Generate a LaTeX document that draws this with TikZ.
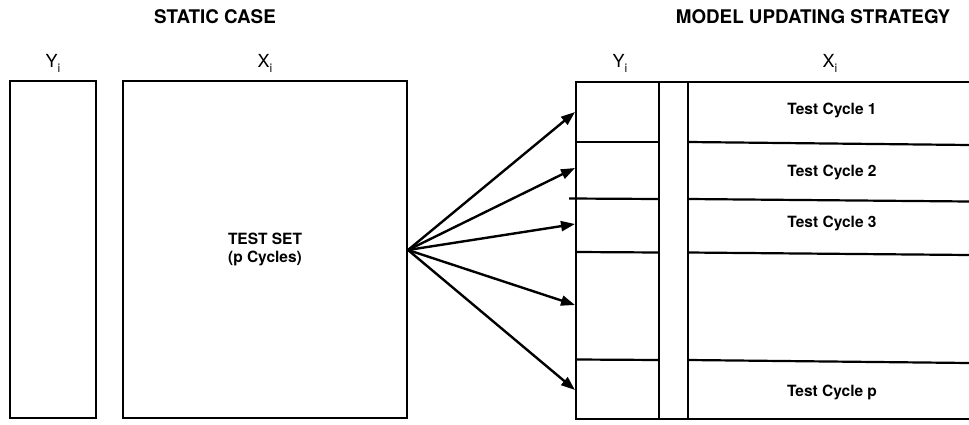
\documentclass[tikz,border=0pt]{standalone}
\usepackage{fontspec}
\setmainfont{TeX Gyre Heros}
\usetikzlibrary{arrows.meta}
\tikzset{
  frame/.style={draw=black, line width=2.4pt},
  sep/.style={draw=black, line width=2.2pt},
  arr/.style={draw=black, line width=2.4pt, -{Triangle[length=14pt,width=10pt]}, shorten >=0pt},
  title/.style={font=\fontsize{18.8}{20}\selectfont\bfseries, inner sep=0pt},
  lab/.style={font=\fontsize{15.5}{18}\selectfont\bfseries, inner sep=0pt, align=center},
  var/.style={font=\fontsize{18}{20}\selectfont, inner sep=0pt, anchor=base}
}
\newcommand{\vsub}[2]{#1\raisebox{-4.5pt}{\fontsize{12}{12}\selectfont #2}}
\begin{document}
\begin{tikzpicture}[x=1pt,y=-1pt]
\useasboundingbox (0,0) rectangle (969,425);
% titles
\node[title] (t1) at (215,17) {STATIC CASE};
\node[title] (t2) at (813,17) {MODEL UPDATING STRATEGY};
% variable labels
\node[var] (ly1) at (53,68) {\vsub{Y}{i}};
\node[var] (lx1) at (265,68) {\vsub{X}{i}};
\node[var] (ly2) at (620,68) {\vsub{Y}{i}};
\node[var] (lx2) at (830,68) {\vsub{X}{i}};
% static boxes
\draw[frame] (10,81) rectangle (96,418);
\draw[frame] (123,81) rectangle (407,418);
\node[lab] (ts) at (265,249) {TEST SET\\(p Cycles)};
\coordinate (src) at (408,250);
% updating block
\draw[frame] (969,82) -- (576,82) -- (576,419) -- (969,419);
\draw[sep] (659,82) -- (659,419);
\draw[sep] (688,82) -- (688,419);
% separators
\draw[sep] (576,142) -- (659,142);
\draw[sep] (688,142) -- (969,145);
\draw[sep] (569,198.5) -- (659,199);
\draw[sep] (688,199) -- (969,201.5);
\draw[sep] (576,252) -- (659,252.5);
\draw[sep] (688,252.5) -- (969,255);
\draw[sep] (576,359.5) -- (659,360);
\draw[sep] (688,360) -- (969,363);
% cycle labels
\node[lab] (c1) at (832,110) {Test Cycle 1};
\node[lab] (c2) at (832,172) {Test Cycle 2};
\node[lab] (c3) at (832,223) {Test Cycle 3};
\node[lab] (cp) at (832,392) {Test Cycle p};
% arrow targets
\coordinate (a1) at (575,112);
\coordinate (a2) at (575,168);
\coordinate (a3) at (575,224);
\coordinate (a4) at (575,305);
\coordinate (a5) at (575,390);
\foreach \t in {a1,a2,a3,a4,a5} \draw[arr] (src) -- (\t);
\end{tikzpicture}
\end{document}
